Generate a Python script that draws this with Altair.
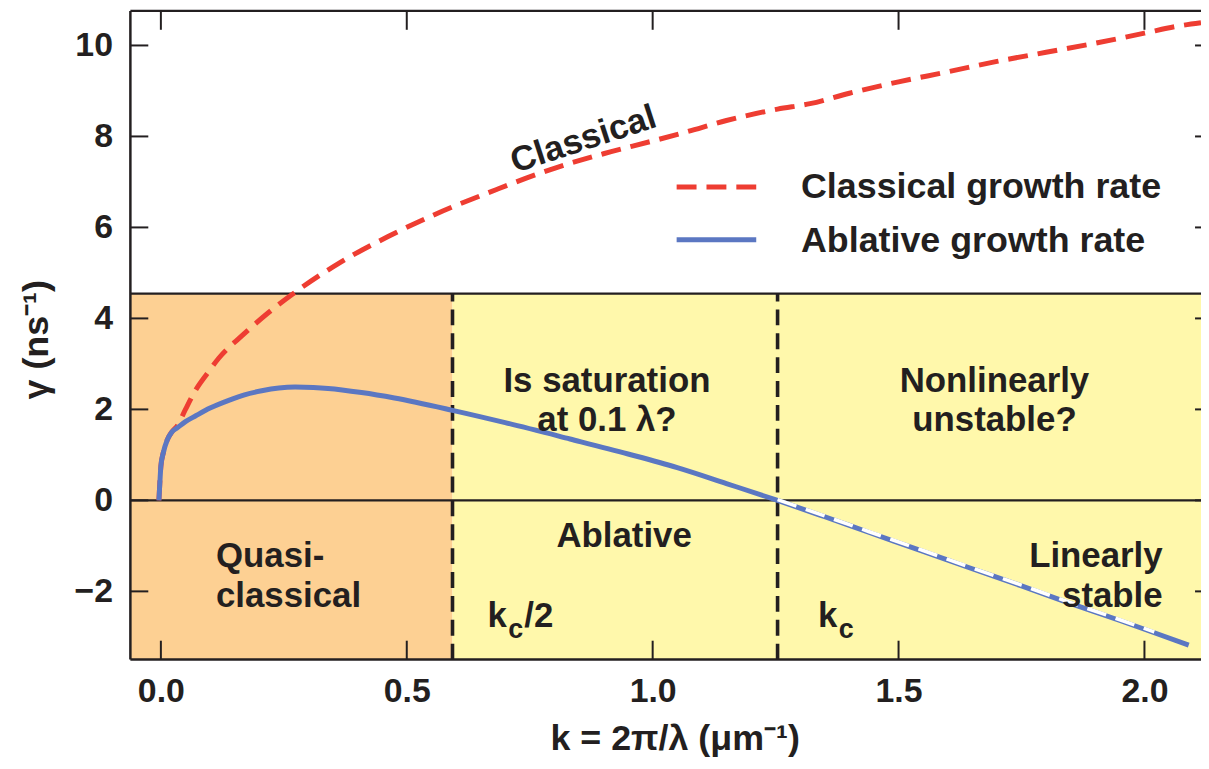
import altair as alt
import pandas as pd

# ---------------- data ----------------
blue_k = [-0.004, -0.002, 0.0, 0.005, 0.013, 0.022, 0.034, 0.05, 0.071, 0.1, 0.138, 0.17, 0.205, 0.24,
          0.273, 0.31, 0.34, 0.408, 0.475, 0.593, 0.7, 0.832, 0.95, 1.05, 1.15, 1.254, 1.35, 1.439,
          1.55, 1.641, 1.75, 1.843, 1.95, 2.02, 2.09]
blue_g = [0.0, 0.4, 0.75, 1.05, 1.33, 1.5, 1.6, 1.73, 1.86, 2.03, 2.2, 2.32, 2.41, 2.47,
          2.49, 2.48, 2.46, 2.37, 2.25, 1.98, 1.71, 1.35, 1.02, 0.72, 0.37, 0.0, -0.36, -0.70,
          -1.12, -1.47, -1.88, -2.24, -2.64, -2.91, -3.18]

red_k = [-0.004, 0.0, 0.005, 0.013, 0.022, 0.034, 0.05, 0.071, 0.095, 0.118, 0.165, 0.219, 0.266,
         0.36, 0.462, 0.55, 0.684, 0.8, 0.9, 1.0, 1.069, 1.15, 1.254, 1.32, 1.4, 1.5, 1.6, 1.7,
         1.8, 1.9, 2.0, 2.065, 2.115]
red_g = [0.0, 0.75, 1.05, 1.33, 1.5, 1.65, 2.0, 2.43, 2.8, 3.13, 3.62, 4.13, 4.52,
         5.2, 5.8, 6.25, 6.84, 7.3, 7.62, 7.9, 8.1, 8.35, 8.6, 8.72, 8.95, 9.2, 9.42, 9.65,
         9.85, 10.05, 10.27, 10.42, 10.5]

kc_half = 0.593
kc = 1.254
region_top = 4.545
region_start = [-0.062, kc_half]
region_end = [kc_half, 2.115]
region_color = ["#FDD093", "#FFF8AB"]

x_ticks = [0.0, 0.5, 1.0, 1.5, 2.0]
y_ticks = [-2, 0, 2, 4, 6, 8, 10]

X_DOMAIN = [-0.062, 2.115]
Y_DOMAIN = [-3.5, 10.76]

# ---------------- styling ----------------
W, H = 1076, 652
F = "Liberation Sans"
INK = "#231F20"
BLUE = "#5B77C2"
RED = "#EE3D32"
FS = 35

xs = alt.Scale(domain=X_DOMAIN, nice=False, zero=False)
ys = alt.Scale(domain=Y_DOMAIN, nice=False, zero=False)

xaxis = alt.Axis(values=x_ticks, format=".1f", ticks=False, domain=False, grid=False,
                 labelFont=F, labelFontSize=34, labelFontWeight="bold", labelColor=INK,
                 labelPadding=15, labelFlush=False, labelOverlap=False,
                 title="k = 2π/λ (μm⁻¹)", titleFont=F, titleFontSize=36, titleFontWeight="bold",
                 titleColor=INK, titleX=547, titleY=90, titleAlign="center",
                 titleBaseline="alphabetic")
yaxis = alt.Axis(values=y_ticks, format="d", ticks=False, domain=False, grid=False,
                 labelFont=F, labelFontSize=34, labelFontWeight="bold", labelColor=INK,
                 labelPadding=18, labelOverlap=False,
                 title="γ (ns⁻¹)", titleFont=F, titleFontSize=36, titleFontWeight="bold",
                 titleColor=INK, titleAngle=270, titleX=-94, titleY=330, titleAlign="center",
                 titleBaseline="middle")


def X(f):
    return alt.X(f, type="quantitative", scale=xs, axis=xaxis)


def Y(f):
    return alt.Y(f, type="quantitative", scale=ys, axis=yaxis)


one = pd.DataFrame({"a": [0]})

regions = pd.DataFrame({"x0": region_start, "x1": region_end,
                        "y0": [Y_DOMAIN[0]] * 2, "y1": [region_top] * 2, "c": region_color})
rects = alt.Chart(regions).mark_rect().encode(
    x=X("x0"), x2="x1", y=Y("y0"), y2="y1",
    color=alt.Color("c:N", scale=None))

hlines = alt.Chart(pd.DataFrame({"y": [0.0, region_top]})).mark_rule(
    color=INK, strokeWidth=2.2).encode(y=Y("y"), x=alt.value(0), x2=alt.value(W))

vlines = alt.Chart(pd.DataFrame({"x": [kc_half, kc], "y0": [Y_DOMAIN[0]] * 2,
                                 "y1": [region_top] * 2})).mark_rule(
    color=INK, strokeWidth=3.6, strokeDash=[16, 8]).encode(x=X("x"), y=Y("y0"), y2="y1")

red_df = pd.DataFrame({"k": red_k, "g": red_g})
blue_df = pd.DataFrame({"k": blue_k, "g": blue_g})

red_line = alt.Chart(red_df).mark_line(color=RED, strokeWidth=5, strokeDash=[20, 10],
                                       interpolate="monotone", clip=True).encode(
    x=X("k"), y=Y("g"), order="k")
blue_line = alt.Chart(blue_df).mark_line(color=BLUE, strokeWidth=5, interpolate="monotone",
                                         clip=True).encode(x=X("k"), y=Y("g"), order="k")
stable_df = blue_df[(blue_df["k"] >= kc) & (blue_df["k"] <= 2.05)]
white_dash = alt.Chart(stable_df).mark_line(color="white", strokeWidth=3.6,
                                            strokeDash=[20, 10], yOffset=-0.8,
                                            interpolate="monotone").encode(
    x=X("k"), y=Y("g"), order="k")

# ---------------- annotations ----------------
def label(df, **kw):
    base = dict(font=F, fontSize=FS, fontWeight="bold", color=INK, lineBreak="\n", lineHeight=40)
    base.update(kw)
    return alt.Chart(pd.DataFrame(df)).mark_text(**base).encode(
        x=X("x"), y=Y("y"), text="t:N")

ann_center = label({"x": [0.907, 1.695, 0.942],
                    "y": [2.63, 2.63, -0.79],
                    "t": ["Is saturation\nat 0.1 λ?", "Nonlinearly\nunstable?", "Ablative"]},
                   align="center", baseline="middle")
ann_left = label({"x": [0.112], "y": [-1.225], "t": ["Quasi-\nclassical"]},
                 align="left", baseline="middle")
ann_right = label({"x": [2.037], "y": [-1.225], "t": ["Linearly\nstable"]},
                  align="right", baseline="middle")
ann_classical = label({"x": [0.859], "y": [7.94], "t": ["Classical"]},
                      align="center", baseline="middle", angle=342)

kc_df = {"x": [0.664, 1.336], "y": [-2.78, -2.78], "t": ["k", "k"]}
k_main = label(kc_df, align="left", baseline="alphabetic")
k_sub = label({"x": [0.664, 1.336], "y": [-2.78, -2.78], "t": ["c", "c"]},
              align="left", baseline="alphabetic", fontSize=27, dx=21, dy=11)
k_half = label({"x": [0.664], "y": [-2.78], "t": ["/2"]},
               align="left", baseline="alphabetic", dx=37)

# ---------------- legend (decoration) ----------------
leg_red = alt.Chart(one).mark_rule(color=RED, strokeWidth=5, strokeDash=[20, 10]).encode(
    x=alt.value(549), x2=alt.value(630), y=alt.value(177))
leg_blue = alt.Chart(one).mark_rule(color=BLUE, strokeWidth=5).encode(
    x=alt.value(549), x2=alt.value(629), y=alt.value(230))
leg_text = alt.Chart(pd.DataFrame({"t": ["Classical growth rate", "Ablative growth rate"],
                                   "py": [177, 231]})).mark_text(
    font=F, fontSize=36, fontWeight="bold", color=INK, align="left", baseline="middle").encode(
    x=alt.value(674), y=alt.Y("py:Q", scale=None), text="t:N")

# ---------------- frame and inward ticks ----------------
frame_left = alt.Chart(one).mark_rule(color=INK, strokeWidth=2.5).encode(
    x=alt.value(0), y=alt.value(0), y2=alt.value(H))
frame_top = alt.Chart(one).mark_rule(color=INK, strokeWidth=2.5).encode(
    y=alt.value(0), x=alt.value(0), x2=alt.value(W))
frame_bottom = alt.Chart(one).mark_rule(color=INK, strokeWidth=2.5).encode(
    y=alt.value(H), x=alt.value(0), x2=alt.value(W))

ytk = pd.DataFrame({"v": y_ticks})
xtk = pd.DataFrame({"v": x_ticks})
tick_left = alt.Chart(ytk).mark_rule(color=INK, strokeWidth=2).encode(
    y=Y("v"), x=alt.value(0), x2=alt.value(18))
tick_right = alt.Chart(ytk).mark_rule(color=INK, strokeWidth=2).encode(
    y=Y("v"), x=alt.value(W - 6), x2=alt.value(W))
tick_bottom = alt.Chart(xtk).mark_rule(color=INK, strokeWidth=2).encode(
    x=X("v"), y=alt.value(H), y2=alt.value(H - 19))
tick_top = alt.Chart(xtk).mark_rule(color=INK, strokeWidth=2).encode(
    x=X("v"), y=alt.value(0), y2=alt.value(19))

chart = alt.layer(
    rects, hlines, vlines, red_line, blue_line, white_dash,
    ann_center, ann_left, ann_right, ann_classical, k_main, k_sub, k_half,
    leg_red, leg_blue, leg_text,
    frame_left, frame_top, frame_bottom, tick_left, tick_right, tick_bottom, tick_top,
).properties(
    width=W, height=H,
    autosize=alt.AutoSizeParams(type="none"),
    padding={"left": 123, "top": 1, "right": 0, "bottom": 100},
).configure_view(stroke=None)

chart.save("out.html", embed_options={"renderer": "svg", "actions": False})
